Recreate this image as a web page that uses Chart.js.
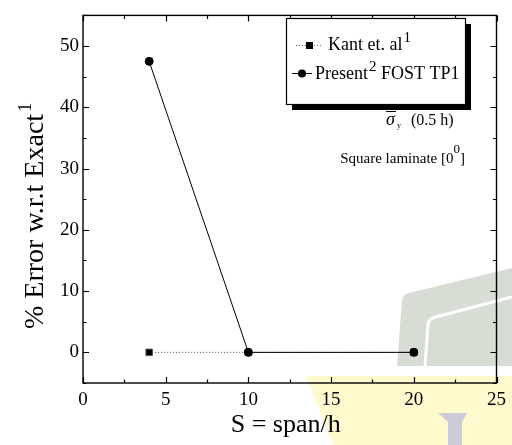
<!DOCTYPE html>
<html>
<head>
<meta charset="utf-8">
<script src="https://cdn.jsdelivr.net/npm/chart.js@4.4.0/dist/chart.umd.min.js"></script>
<style>
  html, body { margin: 0; padding: 0; background: #fff; }
  #grafico { display: block; }
</style>
</head>
<body>
<canvas id="grafico" width="512" height="445"></canvas>
<script>
// datos
const spanRatios = [4, 10, 20];
const kantError = [0, 0, 0];
const presentError = [47.5, 0, 0];

const xMajorTicks = [0, 5, 10, 15, 20, 25];
const xMinorTicks = [2.5, 7.5, 12.5, 17.5, 22.5];
const yMajorTicks = [0, 10, 20, 30, 40, 50];
const yMinorTicks = [-5, 5, 15, 25, 35, 45, 55];

const SERIF = '"Liberation Serif", "DejaVu Serif", serif';

// fondo (marca de agua) detras del grafico
const fondoPlugin = {
    id: 'fondo',
    beforeDraw(chart) {
        const ctx = chart.ctx;
        ctx.save();
        ctx.fillStyle = '#fff';
        ctx.fillRect(0, 0, chart.width, chart.height);

        ctx.fillStyle = 'rgb(255,250,206)';
        ctx.beginPath();
        ctx.moveTo(306, 376); ctx.lineTo(512, 376); ctx.lineTo(512, 445); ctx.lineTo(333, 445);
        ctx.closePath(); ctx.fill();

        ctx.fillStyle = 'rgb(214,221,211)';
        ctx.beginPath();
        ctx.moveTo(397, 366); ctx.lineTo(402, 300);
        ctx.quadraticCurveTo(403, 294, 409, 293);
        ctx.lineTo(512, 268); ctx.lineTo(512, 366);
        ctx.closePath(); ctx.fill();

        ctx.strokeStyle = '#fff';
        ctx.lineWidth = 3;
        ctx.beginPath();
        ctx.moveTo(425, 366); ctx.lineTo(428, 324);
        ctx.quadraticCurveTo(429, 318, 436, 317);
        ctx.lineTo(512, 297);
        ctx.stroke();

        ctx.fillStyle = 'rgb(204,204,214)';
        ctx.beginPath();
        ctx.moveTo(438, 413); ctx.lineTo(467, 413); ctx.lineTo(462, 422);
        ctx.lineTo(462, 445); ctx.lineTo(448, 445); ctx.lineTo(448, 422);
        ctx.closePath(); ctx.fill();
        ctx.restore();
    }
};

// marco, marcas hacia dentro, leyenda y textos
const marcoPlugin = {
    id: 'marco',
    afterDraw(chart) {
        const ctx = chart.ctx;
        const a = chart.chartArea;
        const xs = chart.scales.x, ys = chart.scales.y;
        ctx.save();
        ctx.strokeStyle = '#000';
        ctx.lineWidth = 1.4;
        ctx.strokeRect(a.left, a.top, a.right - a.left, a.bottom - a.top);

        ctx.lineWidth = 1.2;
        ctx.beginPath();
        const marca = (lista, largo) => {
            lista.forEach(v => {
                const px = Math.round(xs.getPixelForValue(v)) + 0.5;
                ctx.moveTo(px, a.bottom); ctx.lineTo(px, a.bottom - largo);
                ctx.moveTo(px, a.top); ctx.lineTo(px, a.top + largo);
            });
        };
        const marcaY = (lista, largo) => {
            lista.forEach(v => {
                const py = Math.round(ys.getPixelForValue(v)) + 0.5;
                ctx.moveTo(a.left, py); ctx.lineTo(a.left + largo, py);
                ctx.moveTo(a.right, py); ctx.lineTo(a.right - largo, py);
            });
        };
        marca(xMajorTicks, 6); marca(xMinorTicks, 3.5);
        marcaY(yMajorTicks, 6); marcaY(yMinorTicks, 3.5);
        ctx.stroke();

        ctx.fillStyle = '#000';
        ctx.textBaseline = 'alphabetic';

        // titulo eje x
        ctx.font = '26px ' + SERIF;
        ctx.textAlign = 'center';
        ctx.fillText('S = span/h', (a.left + a.right) / 2 - 4, 432);

        // titulo eje y con superindice
        ctx.save();
        ctx.translate(43, 329);
        ctx.rotate(-Math.PI / 2);
        ctx.textAlign = 'left';
        ctx.font = '28px ' + SERIF;
        const tY = '% Error w.r.t Exact';
        ctx.fillText(tY, 0, 0);
        const wY = ctx.measureText(tY).width;
        ctx.font = '19px ' + SERIF;
        ctx.fillText('1', wY + 2, -12);
        ctx.restore();

        // leyenda con sombra
        const L = { x: 286, y: 18, w: 179, h: 86 };
        ctx.fillStyle = '#000';
        ctx.fillRect(L.x + 6, L.y + 6, L.w, L.h);
        ctx.fillStyle = '#fff';
        ctx.fillRect(L.x, L.y, L.w, L.h);
        ctx.lineWidth = 1.2;
        ctx.strokeRect(L.x + 0.5, L.y + 0.5, L.w, L.h);

        ctx.fillStyle = '#000';
        ctx.strokeStyle = '#666';
        ctx.lineWidth = 1;
        ctx.setLineDash([1, 2]);
        ctx.beginPath(); ctx.moveTo(296, 45.5); ctx.lineTo(321, 45.5); ctx.stroke();
        ctx.setLineDash([]);
        ctx.fillRect(306, 42, 7, 7);

        ctx.strokeStyle = '#000';
        ctx.beginPath(); ctx.moveTo(292, 73.5); ctx.lineTo(312, 73.5); ctx.stroke();
        ctx.beginPath(); ctx.arc(302, 73.5, 4, 0, Math.PI * 2); ctx.fill();

        ctx.textAlign = 'left';
        ctx.font = '18px ' + SERIF;
        ctx.fillText('Kant et. al', 328, 50);
        let w = ctx.measureText('Kant et. al').width;
        ctx.font = '15px ' + SERIF;
        ctx.fillText('1', 328 + w + 1, 42);

        ctx.font = '18px ' + SERIF;
        ctx.fillText('Present', 315, 79);
        w = ctx.measureText('Present').width;
        ctx.font = '15px ' + SERIF;
        ctx.fillText('2', 315 + w + 1, 71);
        const w2 = ctx.measureText('2').width;
        ctx.font = '18px ' + SERIF;
        ctx.fillText(' FOST TP1', 315 + w + w2 + 1, 79);

        // anotaciones
        ctx.font = 'italic 18px ' + SERIF;
        ctx.fillText('\u03c3', 386, 125);
        ctx.lineWidth = 1;
        ctx.beginPath(); ctx.moveTo(386, 111.5); ctx.lineTo(396, 111.5); ctx.stroke();
        ctx.font = '8px ' + SERIF;
        ctx.fillText('y', 397, 128);
        ctx.font = '16px ' + SERIF;
        ctx.fillText('(0.5 h)', 411, 125);

        ctx.font = '15px ' + SERIF;
        const s1 = 'Square laminate [0';
        const ws1 = ctx.measureText(s1).width;
        const wc = ctx.measureText(']').width;
        ctx.font = '13px ' + SERIF;
        const wsup = ctx.measureText('0').width;
        const x0 = 465 - wc - wsup - ws1;
        ctx.font = '15px ' + SERIF;
        ctx.fillText(s1, x0, 163);
        ctx.fillText(']', x0 + ws1 + wsup, 163);
        ctx.font = '13px ' + SERIF;
        ctx.fillText('0', x0 + ws1, 153);
        ctx.restore();
    }
};

const ctxGrafico = document.getElementById('grafico').getContext('2d');

window.graficaError = new Chart(ctxGrafico, {
    type: 'line',
    data: {
        datasets: [
            {
                label: 'Present FOST TP1',
                data: spanRatios.map((s, i) => ({ x: s, y: presentError[i] })),
                borderColor: '#000',
                backgroundColor: '#000',
                borderWidth: 1,
                pointStyle: 'circle',
                pointRadius: 4,
                tension: 0,
                order: 0
            },
            {
                label: 'Kant et. al',
                data: spanRatios.map((s, i) => ({ x: s, y: kantError[i] })),
                borderColor: '#555',
                backgroundColor: '#000',
                borderWidth: 1,
                borderDash: [1, 2],
                pointStyle: 'rect',
                pointRadius: 4.6,
                tension: 0,
                order: 1
            }
        ]
    },
    options: {
        responsive: false,
        animation: false,
        layout: { padding: { left: 0, right: 8, top: 10, bottom: 0 } },
        plugins: {
            legend: { display: false },
            tooltip: { enabled: false },
            title: { display: false }
        },
        scales: {
            x: {
                type: 'linear',
                min: 0, max: 25,
                afterFit: s => { s.height = 62; },
                afterBuildTicks: s => { s.ticks = xMajorTicks.map(v => ({ value: v })); },
                grid: { display: false, drawTicks: false },
                border: { display: false },
                ticks: {
                    color: '#000',
                    padding: 6,
                    maxRotation: 0,
                    font: { family: SERIF, size: 19 }
                }
            },
            y: {
                type: 'linear',
                min: -5, max: 55,
                afterFit: s => { s.width = 83; },
                afterBuildTicks: s => { s.ticks = yMajorTicks.map(v => ({ value: v })); },
                grid: { display: false, drawTicks: false },
                border: { display: false },
                ticks: {
                    color: '#000',
                    padding: 4,
                    font: { family: SERIF, size: 19 }
                }
            }
        }
    },
    plugins: [fondoPlugin, marcoPlugin]
});
</script>
</body>
</html>
